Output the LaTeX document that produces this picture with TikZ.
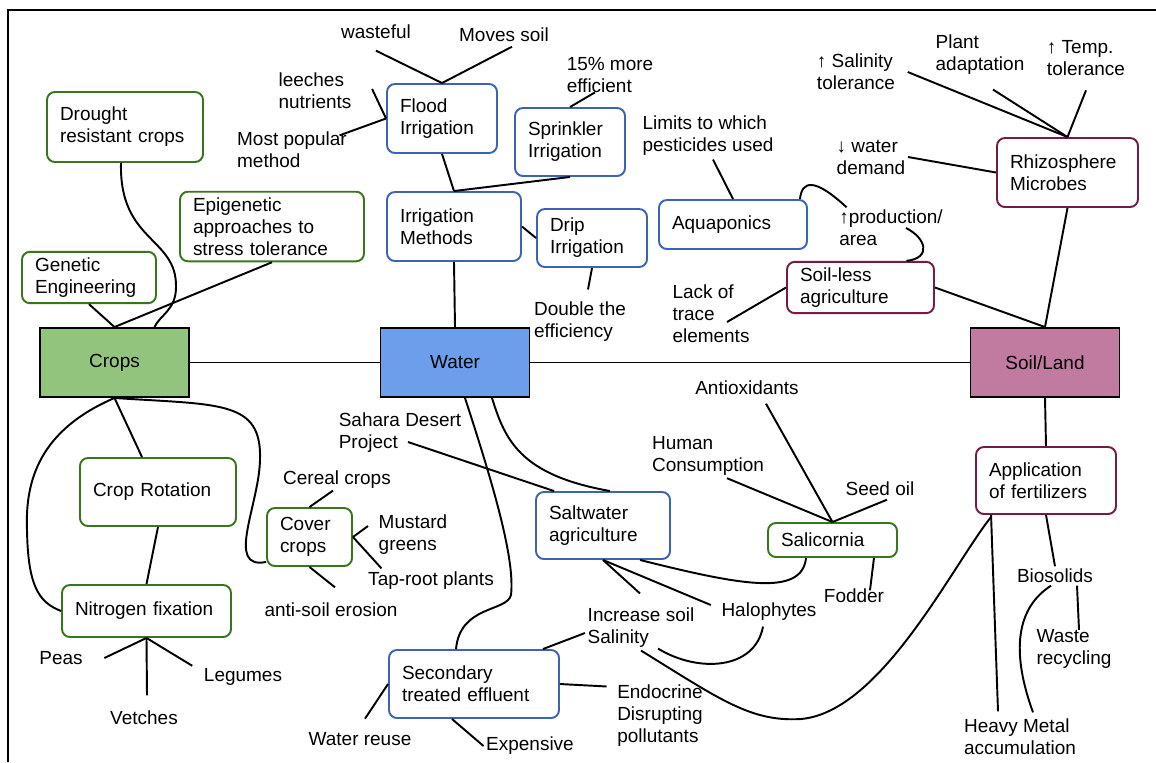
\documentclass[tikz,border=0pt]{standalone}
\usepackage{fontspec}
\setmainfont{Liberation Sans}
\usepackage{tikz}
\usetikzlibrary{calc}
\definecolor{cropsfill}{RGB}{147,196,125}
\definecolor{waterfill}{RGB}{109,158,235}
\definecolor{soilfill}{RGB}{194,123,160}
\definecolor{cropsline}{RGB}{56,118,29}
\definecolor{waterline}{RGB}{60,100,180}
\definecolor{soilline}{RGB}{116,27,71}

\begin{document}
\begin{tikzpicture}[x=0.02cm,y=-0.02cm,line width=1.1pt,
    font=\fontsize{10.8}{12.5}\selectfont,
    topic/.style={draw=black,line width=1.1pt,minimum width={149*0.02cm},minimum height={69*0.02cm}},
    box/.style 2 args={draw,rounded corners=4.5pt,fill=white,align=left,inner xsep=0.26cm,
      text width={(#1-26)*0.02cm},minimum height={#2*0.02cm}},
    cbox/.style 2 args={box={#1}{#2},draw=cropsline},
    wbox/.style 2 args={box={#1}{#2},draw=waterline},
    sbox/.style 2 args={box={#1}{#2},draw=soilline},
    lbl/.style={align=left,inner sep=1pt}]
    \useasboundingbox (0,0) rectangle (1156,762);
    \draw[line width=1.5pt] (8,762) -- (8,10) -- (1156,10);

    \node at (114.5,362.5)[topic,fill=cropsfill,name=crops]{Crops};
    \node at (455,362.5)[topic,fill=waterfill,name=water]{Water};
    \node at (1045,362.5)[topic,fill=soilfill,name=soil]{Soil/Land};
    \draw (crops) -- (water);
    \draw (water) -- (soil);

    \node at (125,127)[cbox={156}{70},name=drought]{Drought\\resistant crops};
    \node at (272,226.5)[cbox={184}{69},name=epigen]{Epigenetic\\approaches to\\stress tolerance};
    \node at (89,277.5)[cbox={134}{51},name=genetic]{Genetic\\Engineering};
    \node at (158,492)[cbox={156}{68},name=rotation]{Crop Rotation};
    \node at (146.5,611)[cbox={169}{52},name=nitrogen]{Nitrogen fixation};
    \node at (309.5,537)[cbox={85}{58},name=cover]{Cover\\crops};
    \node at (61,658)[lbl,name=peas]{Peas};
    \node at (243,677)[lbl,name=legumes]{Legumes};
    \node at (144,718)[lbl,name=vetches]{Vetches};
    \node at (337,480)[lbl,name=cereal]{Cereal crops};
    \node at (413,535)[lbl,name=mustard]{Mustard\\greens};
    \node at (431,581)[lbl,name=taproot]{Tap-root plants};
    \node at (331,610)[lbl,name=erosion]{anti-soil erosion};
    \draw (genetic.south) -- (crops.north);
    \draw (epigen.south) -- (crops.north);
    \draw ($(drought.south)+(-4,0)$) .. controls (119,242) and (177,237) .. (176,287) .. controls (176,310) and (160,315) .. ($(crops.north)+(40,0)$);
    \draw (crops.south) -- ($(rotation.north)+(-16,0)$);
    \draw (rotation.south) -- (nitrogen.north);
    \draw (crops.south) .. controls (40,430) and (25,480) .. (27,530) .. controls (28,585) and (38,602) .. (nitrogen.west);
    \draw (crops.south) .. controls (220,405) and (262,400) .. (260,460) .. controls (259,505) and (225,570) .. ($(cover.south west)+(0,-5)$);
    \draw (cover.north) -- ($(cereal.south)+(-4,-1)$);
    \draw (cover.east) -- ($(mustard.west)+(-8,-9)$);
    \draw (cover.east) -- ($(taproot.north west)+(16,-1)$);
    \draw (cover.south) -- ($(erosion.north)+(4,-13)$);
    \draw (nitrogen.south) -- ($(peas.east)+(19,0)$);
    \draw (nitrogen.south) -- ($(vetches.north)+(3,-13)$);
    \draw (nitrogen.south) -- ($(legumes.north west)+(-9,0)$);

    \node at (442,118.5)[wbox={110}{69},name=flood]{Flood\\Irrigation};
    \node at (570,142)[wbox={110}{68},name=sprinkler]{Sprinkler\\Irrigation};
    \node at (454,226.5)[wbox={134}{69},name=methods]{Irrigation\\Methods};
    \node at (592,238)[wbox={110}{58},name=drip]{Drip\\Irrigation};
    \node at (733,224.5)[wbox={148}{49},name=aquaponics]{Aquaponics};
    \node at (603,525.5)[wbox={134}{67},name=saltwater]{Saltwater\\agriculture};
    \node at (474,684)[wbox={170}{68},name=effluent]{Secondary\\treated effluent};
    \node at (376,32)[lbl,name=wasteful]{wasteful};
    \node at (504,35)[lbl,name=moves]{Moves soil};
    \node at (315,91)[lbl,name=leeches]{leeches\\nutrients};
    \node at (292,150)[lbl,name=popular]{Most popular\\method};
    \node at (610,75)[lbl,name=efficient]{15\% more\\efficient};
    \node at (708,136)[lbl,name=limits]{Limits to which\\pesticides used};
    \node at (580,322)[lbl,name=double]{Double the\\efficiency};
    \node at (400,433)[lbl,name=sahara]{Sahara Desert\\Project};
    \node at (641,628)[lbl,name=salinity]{Increase soil\\Salinity};
    \node at (360,739)[lbl,name=reuse]{Water reuse};
    \node at (530,746)[lbl,name=expensive]{Expensive};
    \node at (660,716)[lbl,name=endocrine]{Endocrine\\Disrupting\\pollutants};
    \draw (methods.south) -- (water.north);
    \draw (methods.north) -- (flood.south);
    \draw (methods.north) -- (sprinkler.south);
    \draw (methods.east) -- (drip.west);
    \draw (drip.south) -- ($(double.north)+(8,-10)$);
    \draw ($(wasteful.south)+(0,9)$) -- (flood.north);
    \draw ($(moves.south)+(8,2)$) -- (flood.north);
    \draw ($(leeches.east)+(18,-2)$) -- (flood.west);
    \draw ($(popular.north east)+(-10,6)$) -- (flood.west);
    \draw (sprinkler.north) -- ($(efficient.south)+(-15,-3)$);
    \draw (aquaponics.north) -- ($(limits.south)+(5,1)$);
    \draw ($(sahara.center)+(8,9)$) -- ($(saltwater.north west)+(19,0)$);
    \draw ($(water.south)+(37,0)$) .. controls (505,440) and (520,475) .. ($(saltwater.north)+(7,0)$);
    \draw ($(water.south)+(10,0)$) .. controls (495,490) and (515,560) .. (511,595) .. controls (507,612) and (460,605) .. ($(effluent.north)+(-18,0)$);
    \draw (saltwater.south) -- ($(salinity.north)+(-1,-12)$);
    \draw ($(salinity.west)+(0,5)$) -- ($(effluent.north east)+(-17,0)$);
    \draw (effluent.west) -- ($(reuse.north)+(5,-11)$);
    \draw ($(effluent.south)+(-22,0)$) -- (expensive.west);
    \draw (effluent.east) -- ($(endocrine.north west)+(-8,4)$);

    \node at (1067.5,172.5)[sbox={141}{69},name=rhizo]{Rhizosphere\\Microbes};
    \node at (860.5,287.5)[sbox={147}{49},name=soilless]{Soil-less\\agriculture};
    \node at (1046,480.5)[sbox={140}{67},name=fertilizer]{Application\\of fertilizers};
    \node at (832.5,540)[cbox={129}{34},name=salicornia]{Salicornia};
    \node at (711,314)[lbl,name=lack]{Lack of\\trace\\elements};
    \node at (856,72)[lbl,name=salin]{↑ Salinity\\tolerance};
    \node at (980,55)[lbl,name=plant]{Plant\\adaptation};
    \node at (1086,58)[lbl,name=temp]{↑ Temp.\\tolerance};
    \node at (871,157)[lbl,name=demand]{↓ water\\demand};
    \node at (891,228)[lbl,name=prod]{↑production/\\area};
    \node at (708,456)[lbl,name=human]{Human\\Consumption};
    \node at (747,388)[lbl,name=antiox]{Antioxidants};
    \node at (880,489)[lbl,name=seedoil]{Seed oil};
    \node at (769,612)[lbl,name=halophytes]{Halophytes};
    \node at (854,596)[lbl,name=fodder]{Fodder};
    \node at (1055,576)[lbl,name=biosolids]{Biosolids};
    \node at (1074,649)[lbl,name=waste]{Waste\\recycling};
    \node at (1020,737)[lbl,name=heavy]{Heavy Metal\\accumulation};
    \draw ($(aquaponics.north east)+(-8,0)$) .. controls (802,180) and (815,178) .. ($(prod.north west)+(10,0)$);
    \draw ($(prod.center)+(15,0)$) .. controls (926,238) and (932,258) .. ($(soilless.north)+(46,0)$);
    \draw ($(lack.center)+(16,8)$) -- (soilless.west);
    \draw (soilless.east) -- (soil.north);
    \draw (rhizo.south) -- (soil.north);
    \draw (demand.east) -- (rhizo.west);
    \draw ($(salin.east)+(10,0)$) -- (rhizo.north);
    \draw ($(plant.south)+(13,12)$) -- (rhizo.north);
    \draw ($(temp.south)+(0,12)$) -- (rhizo.north);
    \draw (soil.south) -- (fertilizer.north);
    \draw ($(fertilizer.south west)+(16,0)$) -- ($(heavy.north)+(-22,-5)$);
    \draw (fertilizer.south) -- (biosolids.north);
    \draw ($(biosolids.south)+(-4,0)$) .. controls (1016,608) and (1011,652) .. ($(heavy.north)+(13,-4)$);
    \draw ($(biosolids.south)+(22,0)$) -- ($(waste.north)+(5,3)$);
    \draw ($(fertilizer.south west)+(16,2)$) .. controls (952,566) and (881,712) .. (801,719) .. controls (751,722) and (721,700) .. (salinity.south);
    \draw ($(antiox.south)+(19,6)$) -- (salicornia.north);
    \draw ($(human.south)+(19,0)$) -- (salicornia.north);
    \draw ($(seedoil.south)+(7,1)$) -- (salicornia.north);
    \draw ($(salicornia.south east)+(-24,0)$) -- ($(fodder.north)+(16,4)$);
    \draw (saltwater.south) -- ($(halophytes.west)+(-8,-7)$);
    \draw ($(saltwater.south)+(37,0)$) .. controls (740,585) and (802,597) .. ($(salicornia.south west)+(39,0)$);
    \draw ($(halophytes.south)+(-6,3)$) .. controls (755,670) and (698,673) .. ($(salinity.south)+(17,-2)$);
\end{tikzpicture}
\end{document}
